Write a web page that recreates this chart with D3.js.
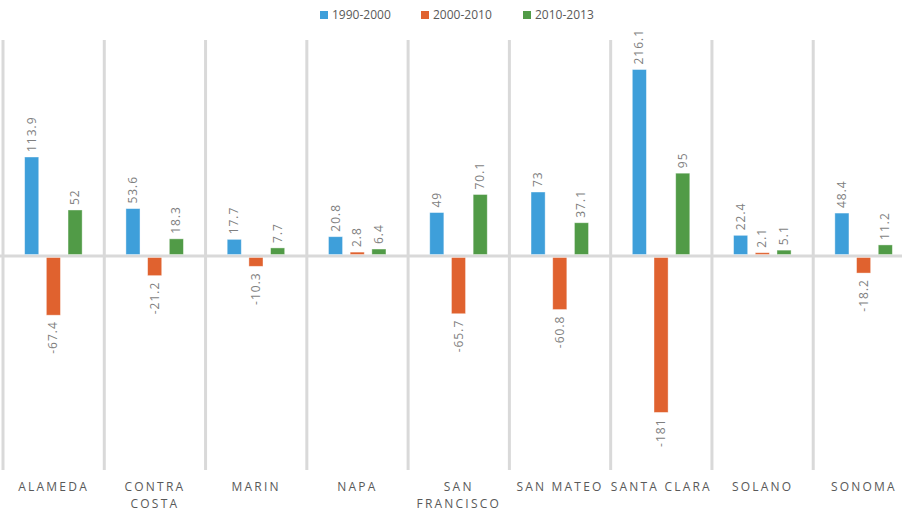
<!DOCTYPE html>
<html>
<head>
<meta charset="utf-8">
<script src="https://cdn.jsdelivr.net/npm/d3@7"></script>
<style>
  body { margin: 0; background: #fff; }
  svg { display: block; font-family: "Open Sans", "Noto Sans", sans-serif; }
</style>
</head>
<body>
<svg id="chart" width="902" height="512"></svg>
<script>
"use strict";

const counties = ["ALAMEDA", "CONTRA COSTA", "MARIN", "NAPA", "SAN FRANCISCO", "SAN MATEO", "SANTA CLARA", "SOLANO", "SONOMA"];
const county_lines = [["ALAMEDA"], ["CONTRA", "COSTA"], ["MARIN"], ["NAPA"], ["SAN", "FRANCISCO"], ["SAN MATEO"], ["SANTA CLARA"], ["SOLANO"], ["SONOMA"]];
const series_names = ["1990-2000", "2000-2010", "2010-2013"];
const s1990_2000 = [113.9, 53.6, 17.7, 20.8, 49, 73, 216.1, 22.4, 48.4];
const s2000_2010 = [-67.4, -21.2, -10.3, 2.8, -65.7, -60.8, -181, 2.1, -18.2];
const s2010_2013 = [52, 18.3, 7.7, 6.4, 70.1, 37.1, 95, 5.1, 11.2];
const series_colors = ["#3e9fda", "#e0622f", "#519b47"];

const svg = d3.select("#chart");
const chart_top = 42, chart_bottom = 470;

const x_scale = d3.scaleBand().domain(counties).range([3, 914.5]);
const y_scale = d3.scaleLinear().domain([-250, 250]).range([chart_bottom, chart_top]);
const x_inner = d3.scaleBand().domain(series_names).range([-29, 28.5]).paddingInner(0.35);

// category separators
svg.append("g").selectAll("line")
  .data(counties.concat(["_end"]))
  .enter().append("line")
  .attr("x1", (d, i) => x_scale(counties[0]) + i * x_scale.bandwidth())
  .attr("x2", (d, i) => x_scale(counties[0]) + i * x_scale.bandwidth())
  .attr("y1", chart_top - 2)
  .attr("y2", chart_bottom)
  .attr("stroke", "#d9d9d9")
  .attr("stroke-width", 3);

// zero line
svg.append("line")
  .attr("x1", 0).attr("x2", 902)
  .attr("y1", y_scale(0)).attr("y2", y_scale(0))
  .attr("stroke", "#d9d9d9")
  .attr("stroke-width", 3);

const all_series = [s1990_2000, s2000_2010, s2010_2013];
const bar_data = [];
all_series.forEach((vals, si) => {
  vals.forEach((v, ci) => bar_data.push({ county: counties[ci], series: series_names[si], value: v, color: series_colors[si] }));
});

const bar_x = d => x_scale(d.county) + x_scale.bandwidth() / 2 + x_inner(d.series);
// bars sit just outside the thick zero line
const off = 1.5;
const bar_top = d => d.value >= 0 ? y_scale(d.value) - off : y_scale(0) + off;
const bar_bot = d => d.value >= 0 ? y_scale(0) - off : y_scale(d.value) + off;

svg.append("g").selectAll("rect")
  .data(bar_data)
  .enter().append("rect")
  .attr("x", bar_x)
  .attr("y", bar_top)
  .attr("width", x_inner.bandwidth())
  .attr("height", d => bar_bot(d) - bar_top(d))
  .attr("fill", d => d.color)
  .attr("stroke", "#ffffff")
  .attr("stroke-opacity", 0.5)
  .attr("stroke-width", 0.8);

// value labels, rotated
svg.append("g").selectAll("text")
  .data(bar_data)
  .enter().append("text")
  .attr("transform", d => {
    const cx = bar_x(d) + x_inner.bandwidth() / 2 + 4;
    const cy = d.value >= 0 ? bar_top(d) - 5 : bar_bot(d) + 6;
    return "translate(" + cx + "," + cy + ") rotate(-90)";
  })
  .attr("text-anchor", d => d.value >= 0 ? "start" : "end")
  .attr("font-size", 12)
  .attr("letter-spacing", 1)
  .attr("fill", "#7f7f7f")
  .text(d => d.value);

// category labels
const cat_g = svg.append("g").selectAll("text")
  .data(counties)
  .enter().append("text")
  .attr("x", d => x_scale(d) + x_scale.bandwidth() / 2)
  .attr("y", 491)
  .attr("text-anchor", "middle")
  .attr("font-size", 12)
  .attr("letter-spacing", 2.2)
  .attr("fill", "#595959");

cat_g.selectAll("tspan")
  .data((d, i) => county_lines[i])
  .enter().append("tspan")
  .attr("x", function () { return d3.select(this.parentNode).attr("x"); })
  .attr("dy", (d, i) => i === 0 ? 0 : 17)
  .text(d => d);

// legend
const legend_x = [320, 421, 523];
const legend = svg.append("g").selectAll("g")
  .data(series_names)
  .enter().append("g")
  .attr("transform", (d, i) => "translate(" + legend_x[i] + ",15)");

legend.append("rect")
  .attr("x", 0).attr("y", -4)
  .attr("width", 8).attr("height", 8)
  .attr("fill", (d, i) => series_colors[i]);

legend.append("text")
  .attr("x", 12).attr("y", 4)
  .attr("font-size", 12)
  .attr("fill", "#595959")
  .text(d => d);
</script>
</body>
</html>
